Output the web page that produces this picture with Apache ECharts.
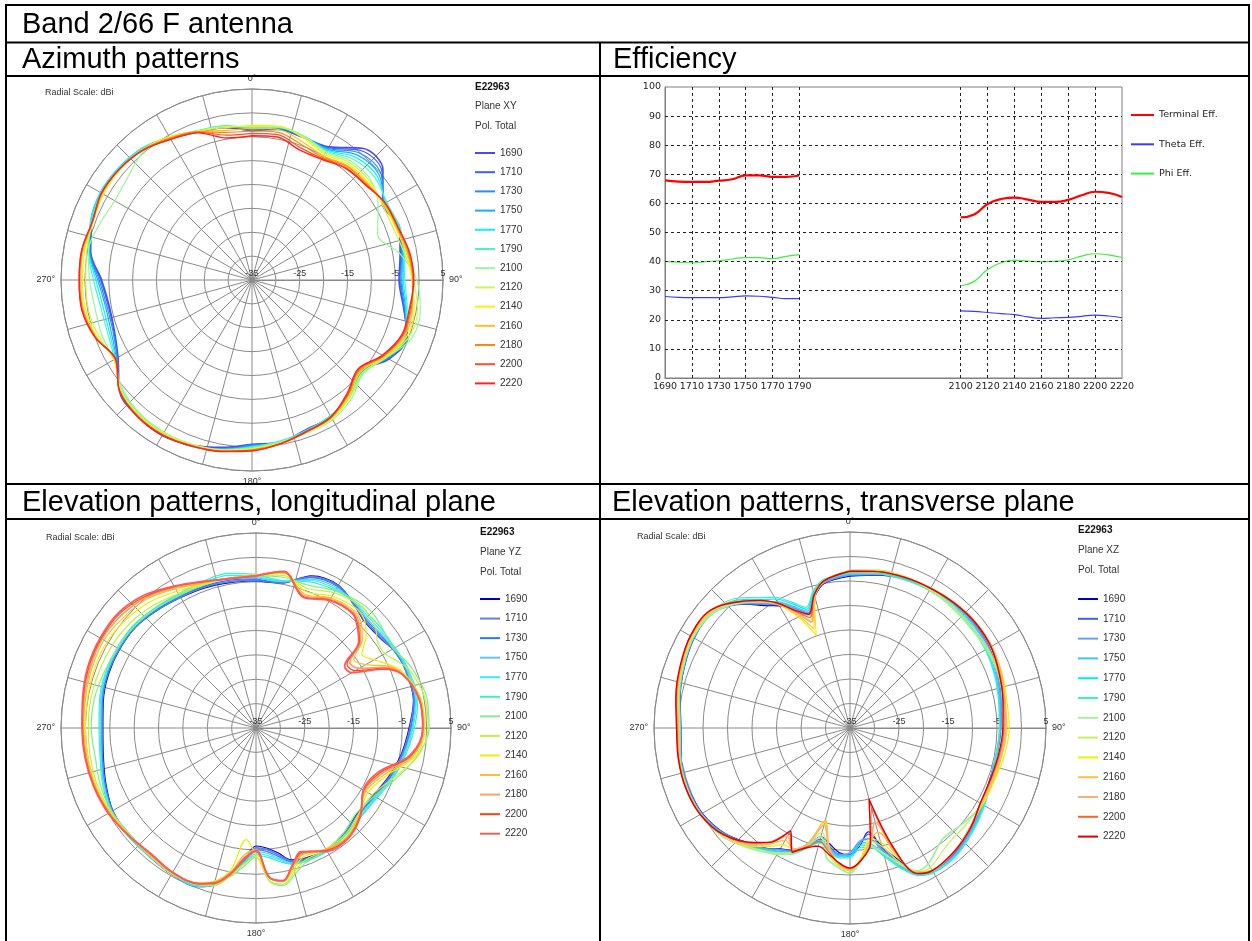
<!DOCTYPE html>
<html><head><meta charset="utf-8">
<script src="https://cdn.jsdelivr.net/npm/echarts/dist/echarts.min.js"></script>
<style>html,body{margin:0;padding:0;background:#fff}#c{width:1252px;height:941px}</style>
</head><body><div id="c"></div>
<script>
// ---------------- DATA ----------------
const freqs = ['1690','1710','1730','1750','1770','1790','2100','2120','2140','2160','2180','2200','2220'];

// Efficiency chart
const effTickLabels = ['1690','1710','1730','1750','1770','1790','2100','2120','2140','2160','2180','2200','2220'];
const lowFreqs  = [1690,1700,1710,1720,1730,1740,1750,1760,1770,1780,1790];
const highFreqs = [2100,2110,2120,2130,2140,2150,2160,2170,2180,2190,2200,2210,2220];
const terminalLow  = [67.9,67.5,67.4,67.4,67.8,68.3,69.6,69.6,69.1,69.1,69.6];
const terminalHigh = [55.2,56.2,59.8,61.5,62.0,61.3,60.5,60.5,61.2,62.8,64.0,63.6,62.2];
const thetaLow  = [28.0,27.7,27.6,27.6,27.6,27.9,28.2,28.1,27.7,27.3,27.3];
const thetaHigh = [23.1,22.9,22.5,22.1,21.8,21.0,20.5,20.7,20.8,21.2,21.6,21.3,20.7];
const phiLow  = [40.1,39.8,39.6,40.0,40.3,40.9,41.4,41.4,41.0,41.8,42.4];
const phiHigh = [31.7,33.2,37.3,39.6,40.5,40.2,40.0,40.1,40.6,41.9,42.7,42.3,41.4];
const effYGrid = [10,20,30,40,50,60,70,80,90];

// Azimuth patterns (plane XY), dBi at each angle
const anglesXY = [0,10,20,30,40,50,60,70,80,90,100,110,120,130,140,150,160,170,180,190,200,210,220,230,240,250,260,270,280,290,300,310,320,330,340,350];
const gainXY = [
 [-3.8,-3.0,-3.3,-2.8,1.0,0.8,-3.4,-2.2,-3.5,-4.2,-2.8,-0.4,-1.9,-5.5,-3.6,-1.9,-1.7,-0.5,-0.6,0.6,1.8,2.6,2.3,1.2,-2.6,-4.3,-4.6,-3.5,-0.7,0.7,1.5,1.3,0.7,-0.8,-2.0,-2.6],
 [-3.6,-2.9,-3.2,-3.0,0.4,0.5,-3.2,-2.3,-3.4,-4.0,-2.7,-0.5,-2.0,-5.4,-3.5,-2.0,-1.6,-0.4,-0.5,0.8,1.9,2.5,2.2,1.2,-2.5,-4.2,-4.4,-3.3,-0.6,0.8,1.5,1.3,0.8,-0.7,-2.0,-2.5],
 [-3.5,-2.8,-3.2,-3.2,-0.2,0.1,-3.0,-2.3,-3.2,-3.8,-2.6,-0.6,-2.2,-5.2,-3.4,-2.0,-1.6,-0.5,-0.4,0.9,2.0,2.4,2.1,1.1,-2.4,-4.0,-4.1,-3.0,-0.5,0.9,1.6,1.4,0.8,-0.6,-1.9,-2.4],
 [-3.4,-2.7,-3.1,-3.4,-0.8,-0.4,-2.8,-2.2,-3.0,-3.6,-2.4,-0.7,-2.4,-5.0,-3.3,-2.1,-1.5,-0.6,-0.2,1.0,2.1,2.3,2.0,1.0,-2.2,-3.6,-3.8,-2.7,-0.4,0.9,1.6,1.4,0.9,-0.5,-1.8,-2.3],
 [-3.3,-2.6,-3.0,-3.6,-1.4,-0.9,-2.6,-2.1,-2.8,-3.3,-2.2,-0.8,-2.6,-4.8,-3.2,-2.2,-1.5,-0.7,-0.1,1.1,2.1,2.2,1.8,0.9,-2.0,-3.2,-3.3,-2.3,-0.3,1.0,1.7,1.5,1.0,-0.4,-1.7,-2.2],
 [-3.2,-2.5,-3.0,-3.8,-2.0,-1.5,-2.4,-2.3,-2.6,-3.0,-2.0,-0.9,-2.8,-4.6,-3.1,-2.2,-1.4,-0.8,0.0,1.2,2.0,2.0,1.6,0.7,-1.8,-2.8,-2.8,-1.8,-0.2,0.8,1.5,1.3,0.8,-0.6,-1.8,-2.2],
 [-2.9,-2.5,-3.0,-4.0,-2.6,-2.5,-4.5,-7.0,-3.5,-0.5,0.8,0.6,-2.5,-4.5,-2.6,-1.2,-1.0,-0.6,0.2,1.0,1.6,1.8,1.5,0.4,-1.6,-1.5,-1.6,-1.0,-0.2,-1.0,-1.8,-1.2,0.2,-0.6,-1.9,-2.4],
 [-2.8,-2.4,-3.2,-4.3,-3.0,-2.8,-3.5,-3.5,-2.6,-1.2,0.2,0.0,-2.6,-4.8,-3.0,-1.5,-1.1,-0.4,0.3,1.1,1.7,2.0,1.8,0.8,-1.6,-0.8,-0.2,-0.2,0.2,0.4,0.9,1.0,0.6,-0.5,-1.8,-2.4],
 [-2.6,-2.3,-3.4,-4.6,-3.4,-3.2,-3.2,-3.0,-2.2,-1.5,-0.5,-0.5,-2.8,-5.2,-3.3,-1.6,-1.2,-0.3,0.4,1.2,1.8,2.2,2.0,1.0,-1.7,-0.4,0.4,0.5,0.6,0.5,1.1,1.1,0.7,-0.4,-1.8,-2.6],
 [-3.2,-3.0,-4.2,-5.0,-3.8,-3.5,-3.0,-2.8,-2.0,-1.4,-0.9,-0.9,-3.0,-5.5,-3.5,-1.7,-1.2,-0.2,0.5,1.3,1.9,2.3,2.1,1.1,-1.8,-0.2,0.8,0.9,0.9,0.5,1.2,1.2,0.6,-0.6,-1.9,-3.2],
 [-3.8,-3.6,-4.8,-5.3,-4.0,-3.7,-2.9,-2.6,-1.8,-1.3,-1.1,-1.2,-3.2,-5.7,-3.7,-1.8,-1.2,-0.2,0.6,1.4,1.9,2.4,2.2,1.2,-1.9,-0.1,1.0,1.1,1.1,0.6,1.3,1.2,0.6,-0.7,-2.0,-3.6],
 [-4.3,-4.1,-5.5,-5.6,-4.3,-3.9,-2.8,-2.5,-1.6,-1.2,-1.3,-1.4,-3.3,-5.9,-3.8,-1.9,-1.3,-0.2,0.7,1.4,2.0,2.5,2.3,1.2,-2.0,0.0,1.1,1.2,1.2,0.6,1.4,1.2,0.5,-0.9,-2.1,-4.2],
 [-4.8,-4.6,-6.0,-5.8,-4.5,-4.0,-2.8,-2.5,-1.5,-1.1,-1.5,-1.6,-3.5,-6.0,-4.0,-1.9,-1.3,-0.2,0.8,1.5,2.0,2.5,2.3,1.2,-2.0,0.0,1.2,1.2,1.2,0.6,1.4,1.2,0.5,-1.0,-2.2,-4.8]
];

// Elevation patterns, longitudinal plane (YZ)
const anglesYZ = [0,10,20,30,40,45,50,55,60,65,70,80,90,100,110,120,130,140,150,160,165,170,175,180,185,190,195,200,210,220,230,240,250,260,270,280,290,300,310,320,330,340,350];
const gainYZ = [
 [-4.8,-4.8,-1.8,-1.2,-3.0,-3.8,-3.8,-3.5,-2.6,-2.2,-2.1,-2.2,-3.6,-4.7,-6.0,-7.3,-7.8,-6.8,-6.1,-6.5,-7.0,-9.0,-10.3,-10.8,-8.0,-4.8,-1.8,-0.4,-0.4,-0.9,-0.9,-1.1,-2.2,-3.2,-3.6,-3.2,-2.8,-2.7,-2.8,-3.5,-4.1,-4.4,-4.7],
 [-4.6,-4.7,-2.0,-1.3,-2.9,-3.6,-3.6,-3.3,-2.6,-2.2,-2.1,-2.1,-3.4,-4.5,-5.8,-7.1,-7.6,-6.7,-6.0,-6.3,-6.8,-8.6,-10.0,-10.4,-7.8,-4.6,-1.7,-0.4,-0.4,-0.8,-0.8,-1.0,-2.0,-3.0,-3.4,-3.0,-2.6,-2.6,-2.7,-3.4,-4.0,-4.2,-4.5],
 [-4.4,-4.6,-2.2,-1.5,-2.7,-3.3,-3.3,-3.0,-2.5,-2.1,-2.0,-2.0,-3.2,-4.3,-5.6,-6.9,-7.4,-6.6,-5.9,-6.1,-6.6,-8.2,-9.6,-10.0,-7.6,-4.5,-1.6,-0.4,-0.4,-0.8,-0.8,-1.0,-1.9,-2.9,-3.3,-2.9,-2.5,-2.5,-2.6,-3.3,-3.8,-4.0,-4.2],
 [-4.1,-4.5,-2.5,-1.8,-2.5,-3.0,-3.0,-2.8,-2.4,-2.0,-1.9,-1.8,-3.0,-4.2,-5.4,-6.7,-7.2,-6.5,-5.8,-5.9,-6.4,-7.8,-9.2,-9.6,-7.4,-4.4,-1.6,-0.4,-0.4,-0.8,-0.8,-0.9,-1.8,-2.8,-3.2,-2.8,-2.4,-2.4,-2.5,-3.1,-3.6,-3.7,-3.9],
 [-3.8,-4.4,-2.8,-2.1,-2.3,-2.6,-2.6,-2.5,-2.3,-1.9,-1.7,-1.6,-2.8,-4.0,-5.2,-6.5,-7.0,-6.4,-5.8,-5.8,-6.2,-7.5,-8.8,-9.2,-7.2,-4.3,-1.6,-0.5,-0.5,-0.8,-0.7,-0.8,-1.7,-2.7,-3.0,-2.6,-2.3,-2.3,-2.4,-3.0,-3.4,-3.3,-3.2],
 [-3.5,-4.3,-3.1,-2.4,-2.0,-2.2,-2.2,-2.2,-2.1,-1.7,-1.5,-1.3,-2.5,-3.8,-5.0,-6.3,-6.8,-6.3,-5.9,-5.8,-6.1,-7.2,-8.4,-8.8,-7.0,-4.3,-1.7,-0.6,-0.5,-0.8,-0.6,-0.6,-1.5,-2.5,-2.8,-2.4,-2.1,-2.1,-2.2,-2.8,-3.2,-3.0,-2.8],
 [-3.8,-3.6,-3.8,-2.5,-1.5,-1.4,-1.8,-2.3,-2.5,-1.5,-0.6,0.6,0.5,-1.5,-4.5,-7.0,-8.0,-7.0,-6.2,-5.5,-4.0,-2.2,-3.5,-8.5,-6.5,-4.0,-1.5,-0.8,-0.4,-1.0,-1.2,-0.8,-1.0,-1.5,-1.2,-1.3,-1.8,-2.2,-2.5,-3.0,-3.6,-3.6,-3.8],
 [-3.6,-3.2,-4.5,-3.0,-2.0,-2.2,-3.0,-4.5,-4.5,-2.8,-1.2,0.2,0.3,-1.3,-5.0,-7.5,-7.5,-6.5,-6.3,-6.0,-4.5,-2.5,-3.5,-8.5,-7.0,-4.2,-1.6,-0.8,-0.5,-1.0,-1.0,-0.6,-0.4,-0.5,-0.6,-0.6,-0.8,-1.0,-1.4,-2.2,-3.2,-3.7,-3.8],
 [-3.6,-2.8,-5.2,-3.8,-3.0,-3.6,-5.5,-8.5,-7.0,-4.5,-2.5,-0.6,-0.4,-1.8,-6.5,-8.5,-7.5,-6.0,-6.3,-6.8,-5.0,-3.0,-4.5,-9.0,-12.0,-5.5,-2.5,-1.2,-0.6,-1.0,-0.9,-0.4,-0.1,0.0,0.0,0.1,0.3,0.3,-0.3,-1.2,-2.6,-3.6,-3.8],
 [-3.7,-2.6,-5.8,-4.2,-3.6,-4.5,-6.5,-10.5,-9.0,-5.0,-2.8,-0.8,-0.6,-2.2,-7.0,-9.0,-7.3,-5.8,-6.3,-7.3,-5.5,-3.0,-4.3,-10.0,-9.0,-5.0,-2.3,-1.1,-0.7,-1.1,-0.9,-0.3,0.1,0.2,0.3,0.5,0.8,1.0,0.4,-0.4,-2.0,-3.4,-3.8],
 [-3.7,-2.5,-6.2,-4.5,-4.0,-5.0,-7.0,-11.5,-10.5,-5.6,-2.9,-0.9,-0.7,-2.5,-7.6,-9.3,-7.2,-5.7,-6.2,-7.6,-5.8,-3.1,-4.3,-9.8,-8.4,-4.8,-2.2,-1.0,-0.7,-1.2,-0.8,-0.2,0.2,0.4,0.5,0.8,1.2,1.5,1.0,0.0,-1.7,-3.2,-3.8],
 [-3.8,-2.4,-6.4,-4.7,-4.2,-5.4,-7.3,-12.2,-11.5,-6.0,-3.0,-1.0,-0.8,-2.7,-8.0,-9.5,-7.1,-5.6,-6.0,-7.8,-5.9,-3.2,-4.3,-9.8,-8.2,-4.6,-2.1,-1.0,-0.8,-1.3,-0.8,-0.1,0.3,0.5,0.6,1.0,1.5,1.7,1.5,0.3,-1.5,-3.1,-3.9],
 [-3.8,-2.4,-6.5,-4.8,-4.3,-5.6,-7.5,-12.8,-12.3,-6.4,-3.0,-1.0,-0.8,-2.9,-8.4,-9.6,-7.0,-5.5,-5.8,-8.0,-6.0,-3.2,-4.3,-9.8,-8.0,-4.5,-2.0,-1.0,-0.8,-1.4,-0.8,0.0,0.4,0.6,0.7,1.1,1.7,1.9,1.8,0.6,-1.4,-3.0,-3.9]
];

// Elevation patterns, transverse plane (XZ)
const anglesXZ = [0,10,20,30,40,50,60,70,80,90,100,110,120,130,140,150,155,160,165,170,175,180,185,190,195,200,205,210,215,220,230,240,250,260,270,280,290,300,310,320,325,330,335,340,345,350];
const gainXZ = [
 [-4.0,-3.3,-2.6,-2.2,-1.9,-1.9,-2.2,-3.0,-3.8,-4.3,-4.6,-4.6,-4.0,-3.0,-1.8,-1.4,-2.5,-6.5,-10.0,-13.5,-11.0,-9.0,-9.5,-11.0,-12.0,-9.5,-7.5,-6.5,-5.0,-4.0,-1.6,-0.2,0.2,0.0,-0.5,0.2,1.0,1.7,1.6,-2.0,-4.5,-6.2,-8.5,-10.5,-7.2,-5.0],
 [-3.8,-3.2,-2.5,-2.1,-1.9,-1.9,-2.2,-2.9,-3.7,-4.2,-4.5,-4.5,-3.9,-2.9,-1.7,-1.3,-2.4,-6.0,-9.5,-13.0,-11.5,-9.2,-9.2,-10.5,-11.5,-9.2,-7.4,-6.4,-5.0,-3.9,-1.5,-0.1,0.3,0.1,-0.4,0.3,1.1,1.8,1.6,-1.9,-4.3,-6.0,-8.2,-10.2,-7.0,-4.9],
 [-3.7,-3.1,-2.5,-2.1,-1.9,-2.0,-2.3,-3.0,-3.8,-4.3,-4.6,-4.5,-3.8,-2.7,-1.5,-1.2,-2.2,-5.5,-9.0,-12.0,-11.8,-9.5,-9.0,-10.0,-11.0,-9.0,-7.2,-6.3,-4.9,-3.8,-1.4,0.0,0.3,0.1,-0.4,0.3,1.1,1.8,1.5,-1.8,-4.0,-5.6,-8.0,-10.0,-6.8,-4.8],
 [-3.6,-3.0,-2.5,-2.2,-2.1,-2.2,-2.6,-3.3,-4.0,-4.4,-4.7,-4.5,-3.6,-2.5,-1.3,-1.0,-2.0,-5.0,-8.5,-11.0,-11.5,-9.0,-8.8,-10.2,-11.2,-9.2,-7.0,-6.0,-4.8,-3.6,-1.3,0.0,0.3,0.1,-0.3,0.4,1.2,1.9,1.6,-1.4,-3.6,-5.2,-7.6,-9.6,-6.5,-4.6],
 [-3.5,-3.0,-2.6,-2.4,-2.4,-2.5,-2.9,-3.5,-4.1,-4.5,-4.7,-4.4,-3.4,-2.3,-1.1,-0.9,-1.8,-4.6,-8.0,-10.5,-11.0,-8.8,-8.6,-10.0,-11.0,-9.0,-6.8,-5.8,-4.6,-3.4,-1.2,0.1,0.4,0.1,-0.3,0.4,1.2,1.9,1.8,-0.8,-3.0,-4.6,-7.0,-9.2,-6.2,-4.4],
 [-3.4,-3.0,-2.8,-2.6,-2.6,-2.8,-3.1,-3.6,-4.2,-4.5,-4.6,-4.3,-3.3,-2.2,-1.2,-1.0,-1.9,-4.5,-7.8,-10.2,-10.5,-8.5,-8.4,-9.8,-10.8,-8.8,-6.6,-5.6,-4.4,-3.3,-1.1,0.1,0.4,0.1,-0.3,0.4,1.2,2.0,2.0,-0.3,-2.5,-4.2,-6.6,-8.8,-6.0,-4.2],
 [-2.8,-2.3,-2.2,-2.4,-2.8,-3.0,-2.8,-2.8,-3.2,-3.4,-3.6,-3.8,-3.8,-4.8,-5.5,-3.0,-2.8,-5.5,-8.5,-10.5,-8.0,-5.4,-6.5,-8.0,-12.0,-9.5,-6.8,-5.2,-4.2,-3.0,-0.8,0.2,0.5,0.3,-0.2,0.5,1.3,2.0,1.5,-1.5,-3.5,-5.6,-8.5,-10.6,-7.0,-4.5],
 [-2.9,-2.4,-2.2,-2.3,-2.5,-2.6,-2.5,-2.6,-3.0,-3.2,-3.6,-3.9,-4.0,-4.2,-4.0,-2.2,-2.6,-6.0,-10.0,-11.5,-8.5,-5.8,-6.8,-9.0,-13.0,-9.8,-7.0,-5.6,-4.4,-3.2,-0.9,0.2,0.5,0.3,-0.1,0.6,1.4,2.1,1.8,-1.2,-3.5,-5.8,-9.0,-11.5,-7.2,-4.6],
 [-3.0,-2.5,-2.2,-2.0,-1.7,-1.5,-1.6,-2.0,-2.5,-2.5,-3.0,-3.6,-3.8,-3.2,-2.0,-1.5,-2.6,-7.0,-11.0,-12.0,-8.5,-6.0,-7.0,-10.0,-15.0,-10.0,-7.8,-7.5,-5.5,-3.5,-1.0,0.2,0.6,0.4,0.0,0.7,1.5,2.3,2.0,-1.3,-3.6,-6.0,-10.0,-14.8,-7.2,-4.6],
 [-3.0,-2.6,-2.3,-2.0,-1.7,-1.5,-1.6,-2.1,-2.8,-3.0,-3.5,-3.9,-4.0,-3.2,-2.0,-1.4,-2.5,-7.5,-13.0,-11.5,-8.2,-6.0,-7.2,-10.5,-15.5,-10.0,-7.8,-8.5,-6.0,-3.8,-1.1,0.2,0.6,0.4,0.0,0.8,1.6,2.4,2.1,-1.3,-3.5,-5.8,-9.5,-13.5,-7.0,-4.5],
 [-3.0,-2.6,-2.3,-2.0,-1.7,-1.5,-1.7,-2.3,-3.0,-3.3,-3.8,-4.2,-4.2,-3.1,-2.0,-1.4,-2.4,-8.0,-15.0,-11.0,-8.0,-6.2,-7.3,-10.2,-14.5,-9.8,-7.6,-9.5,-6.5,-4.0,-1.1,0.2,0.6,0.4,0.1,0.9,1.7,2.5,2.2,-1.2,-3.4,-5.7,-9.0,-12.0,-7.0,-4.5],
 [-3.0,-2.6,-2.3,-2.1,-1.8,-1.6,-1.8,-2.5,-3.2,-3.6,-4.0,-4.4,-4.3,-3.0,-2.0,-1.4,-2.3,-8.5,-18.0,-11.0,-8.0,-6.3,-7.4,-9.5,-11.0,-9.2,-7.2,-10.3,-6.6,-4.3,-1.2,0.3,0.7,0.5,0.3,1.0,1.8,2.6,2.3,-1.2,-3.3,-5.6,-8.7,-11.0,-6.9,-4.5],
 [-3.0,-2.6,-2.3,-2.1,-1.8,-1.6,-1.8,-2.6,-3.3,-3.8,-4.2,-4.5,-4.3,-3.0,-2.0,-1.4,-2.2,-9.0,-20.0,-11.0,-8.0,-6.4,-7.5,-9.0,-10.0,-9.0,-7.0,-10.8,-6.5,-4.5,-1.2,0.3,0.7,0.6,0.4,1.1,1.9,2.6,2.3,-1.2,-3.2,-5.6,-8.5,-10.3,-6.8,-4.5]
];

// ---------------- STYLE ----------------
const colorsXY = ['#4848ff','#3c62ee','#2a8cff','#18b0f0','#10f0ff','#44f8c4','#96f896','#c8f858','#f4f400','#ffc020','#ff8800','#ff5028','#ff2424'];
const colorsYZ = ['#0000c8','#6080e8','#2080ff','#60c4ff','#30ecff','#3cf0c0','#80f080','#c4f040','#f0f000','#ffbe30','#ffa060','#ff4414','#ff5a5a'];
const colorsXZ = ['#0000c8','#4060e0','#60a0ff','#40c0ff','#00ecff','#40f0c0','#a0f0a0','#c4f060','#f0f000','#ffc040','#ffb070','#ff6030','#e00000'];
const widthsXY = [1.6,1.2,1.2,1.2,1.2,1.2,1.2,1.2,1.2,1.2,1.2,1.2,1.4];
const widthsYZ = [1.2,1.8,1.2,1.2,1.2,1.2,1.2,1.2,1.2,1.2,1.8,1.2,1.8];
const widthsXZ = [1.2,1.2,1.8,1.2,1.2,1.2,1.8,1.2,1.2,1.2,1.8,1.2,1.4];

const grid = '#8a8a8a';
const polarFont = 'Liberation Sans';

function polarAxes(idx) {
  return [{
    polarIndex: idx, type: 'value', min: 90, max: 450, interval: 15, startAngle: 0, clockwise: true,
    axisLine: {lineStyle: {color: grid, width: 1}},
    axisTick: {show: false},
    splitLine: {lineStyle: {color: grid, width: 1}},
    axisLabel: {fontFamily: polarFont, fontSize: 9, color: '#333', margin: 6,
      formatter: v => (v % 90 === 0 && v !== 450) ? (v % 360) + '°' : ''}
  }, {
    polarIndex: idx, type: 'value', min: -35, max: 5, interval: 5,
    axisLine: {show: true, lineStyle: {color: grid}},
    axisTick: {show: false},
    splitLine: {lineStyle: {color: grid, width: 1}},
    axisLabel: {fontFamily: polarFont, fontSize: 9, color: '#333', margin: 2,
      formatter: v => ((v + 35) % 10 === 0) ? String(v) : ''}
  }];
}

function polarSeries(tag, angles, gains, colors, widths, polarIndex) {
  return gains.map((g, i) => {
    const pts = angles.map((a, j) => [g[j], a < 90 ? a + 360 : a]);
    pts.push([g[0], 360]);
    return {
      type: 'line', coordinateSystem: 'polar', polarIndex: polarIndex,
      name: freqs[i] + '|' + tag, data: pts, smooth: 0.35, symbol: 'none', silent: true,
      lineStyle: {color: colors[i], width: widths[i]}, itemStyle: {color: colors[i]}, z: 3
    };
  });
}

function polarLegend(tag, left, top, gap) {
  return {
    orient: 'vertical', left: left, top: top, itemWidth: 20, itemHeight: 2, itemGap: gap,
    icon: 'rect', padding: 0, selectedMode: false,
    data: freqs.map(f => f + '|' + tag),
    formatter: n => n.split('|')[0],
    textStyle: {fontFamily: polarFont, fontSize: 10, color: '#333', lineHeight: 12}
  };
}

function smallText(text, left, top, size, weight) {
  return {
    text: text, left: left, top: top, padding: 0,
    textStyle: {fontFamily: polarFont, fontSize: size, fontWeight: weight || 'normal',
      color: weight === 'bold' ? '#111' : '#333', lineHeight: size + 2}
  };
}

// efficiency categories (gap between bands has no measurements)
const gapCats = Array.from({length: 11}, (_, i) => '_gap' + i);
const effCats = [...lowFreqs.map(String), ...gapCats, ...highFreqs.map(String)];
const gapNulls = gapCats.map(() => null);
const effLast = effCats.length - 1;

const chart = echarts.init(document.getElementById('c'));
const headFont = {fontFamily: polarFont, fontSize: 29, fontWeight: 'normal', color: '#000', lineHeight: 31};

const option = {
  animation: false,
  backgroundColor: '#fff',
  title: [
    {text: 'Band 2/66 F antenna', left: 22, top: 9, padding: 0, textStyle: headFont},
    {text: 'Azimuth patterns', left: 22, top: 44, padding: 0, textStyle: headFont},
    {text: 'Efficiency', left: 613, top: 44, padding: 0, textStyle: headFont},
    {text: 'Elevation patterns, longitudinal plane', left: 22, top: 487, padding: 0, textStyle: headFont},
    {text: 'Elevation patterns, transverse plane', left: 612, top: 487, padding: 0, textStyle: headFont},
    smallText('Radial Scale: dBi', 45, 87, 9),
    smallText('E22963', 475, 81, 10, 'bold'),
    smallText('Plane XY', 475, 100, 10),
    smallText('Pol. Total', 475, 120, 10),
    smallText('Radial Scale: dBi', 46, 532, 9),
    smallText('E22963', 480, 526, 10, 'bold'),
    smallText('Plane YZ', 480, 546, 10),
    smallText('Pol. Total', 480, 566, 10),
    smallText('Radial Scale: dBi', 637, 531, 9),
    smallText('E22963', 1078, 524, 10, 'bold'),
    smallText('Plane XZ', 1078, 544, 10),
    smallText('Pol. Total', 1078, 564, 10)
  ],
  graphic: [
    [5, 5, 1250, 5], [5, 42.5, 1250, 42.5], [5, 76, 1250, 76], [5, 484, 1250, 484], [5, 519, 1250, 519],
    [6, 5, 6, 941], [600, 42.5, 600, 941], [1249, 5, 1249, 941]
  ].map(l => ({type: 'line', silent: true, z: 100, shape: {x1: l[0], y1: l[1], x2: l[2], y2: l[3]}, style: {stroke: '#000', lineWidth: 2}})),
  legend: [
    polarLegend('XY', 475, 147, 7.2),
    polarLegend('YZ', 480, 593, 7.56),
    polarLegend('XZ', 1078, 593, 7.8),
    {
      orient: 'vertical', left: 1131, top: 109, itemWidth: 23, itemHeight: 2, itemGap: 17.3, icon: 'rect',
      padding: 0, selectedMode: false,
      data: ['Terminal Eff.', 'Theta Eff.', 'Phi Eff.'],
      textStyle: {fontFamily: 'DejaVu Sans', fontSize: 9.5, color: '#222', lineHeight: 12}
    }
  ],
  polar: [
    {center: [252, 280], radius: 191},
    {center: [256, 728], radius: 195},
    {center: [850, 728], radius: 196}
  ],
  angleAxis: [polarAxes(0)[0], polarAxes(1)[0], polarAxes(2)[0]],
  radiusAxis: [polarAxes(0)[1], polarAxes(1)[1], polarAxes(2)[1]],
  grid: {left: 665, top: 87, width: 457, height: 291, show: true, borderColor: '#808080', borderWidth: 1, backgroundColor: 'transparent'},
  xAxis: {
    type: 'category', data: effCats, boundaryGap: false,
    axisLine: {lineStyle: {color: '#808080'}}, axisTick: {show: false},
    axisLabel: {interval: (i, v) => effTickLabels.includes(v), fontFamily: 'DejaVu Sans', fontSize: 9.5, color: '#222', margin: 4},
    splitLine: {show: true, interval: (i, v) => effTickLabels.includes(v) && i !== 0 && i !== effLast,
      lineStyle: {color: '#222', type: [3, 3], width: 1}}
  },
  yAxis: {
    type: 'value', min: 0, max: 100, interval: 10,
    axisLine: {show: true, lineStyle: {color: '#808080'}}, axisTick: {show: false},
    axisLabel: {fontFamily: 'DejaVu Sans', fontSize: 9.5, color: '#222', margin: 4},
    splitLine: {show: false}
  },
  series: [
    {name: 'Terminal Eff.', type: 'line', data: [...terminalLow, ...gapNulls, ...terminalHigh], smooth: true, symbol: 'none',
      lineStyle: {color: '#ff0000', width: 2.2}, itemStyle: {color: '#ff0000'}, z: 5},
    {name: 'Theta Eff.', type: 'line', data: [...thetaLow, ...gapNulls, ...thetaHigh], smooth: true, symbol: 'none',
      lineStyle: {color: '#3a3aff', width: 1.2}, itemStyle: {color: '#3a3aff'}, z: 4,
      markLine: {silent: true, symbol: ['none', 'none'], label: {show: false}, animation: false,
        lineStyle: {color: '#222', type: [3, 3], width: 1}, data: effYGrid.map(v => ({yAxis: v}))}},
    {name: 'Phi Eff.', type: 'line', data: [...phiLow, ...gapNulls, ...phiHigh], smooth: true, symbol: 'none',
      lineStyle: {color: '#3cf03c', width: 1.2}, itemStyle: {color: '#3cf03c'}, z: 4},
    ...polarSeries('XY', anglesXY, gainXY, colorsXY, widthsXY, 0),
    ...polarSeries('YZ', anglesYZ, gainYZ, colorsYZ, widthsYZ, 1),
    ...polarSeries('XZ', anglesXZ, gainXZ, colorsXZ, widthsXZ, 2)
  ]
};
chart.setOption(option);
</script></body></html>
